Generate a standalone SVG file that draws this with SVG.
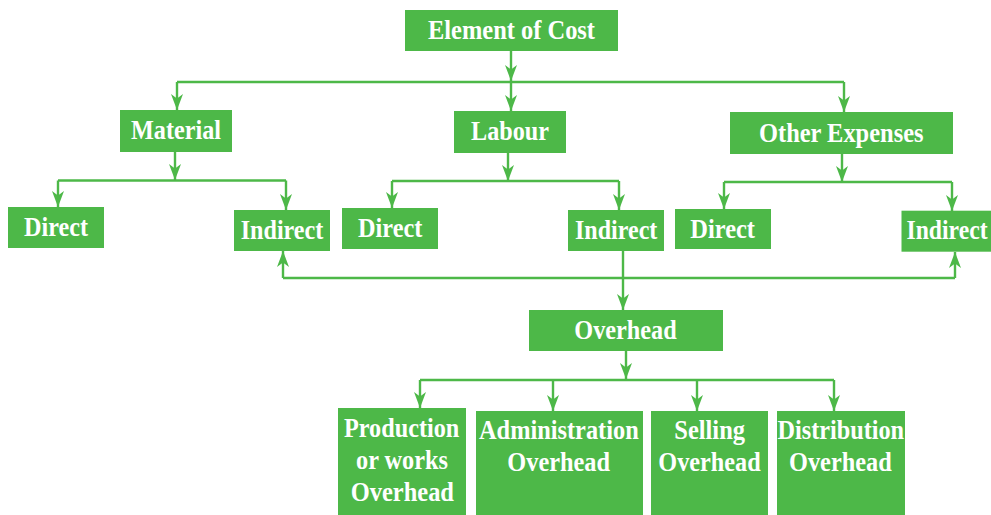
<svg xmlns="http://www.w3.org/2000/svg" width="991" height="515" viewBox="0 0 991 515">
<style>
.box{fill:#4DB848;}
.t{font-family:"Liberation Serif","Times New Roman",serif;font-weight:bold;font-size:28px;fill:#ffffff;}
.c{stroke:#4DB848;stroke-width:2.4;fill:none;}
.a{marker-end:url(#arr);}
</style>
<defs>
<marker id="arr" markerUnits="userSpaceOnUse" viewBox="0 0 16 12" markerWidth="16" markerHeight="12" refX="16" refY="6" orient="auto">
<path d="M0,0 L16,6 L0,12 L4.5,6 Z" fill="#4DB848"/>
</marker>
</defs>
<rect width="991" height="515" fill="#ffffff"/>
<g id="connectors">
<line class="c a" x1="511" y1="51" x2="511" y2="81"/>
<line class="c" x1="177" y1="82" x2="844" y2="82"/>
<line class="c a" x1="177" y1="82" x2="177" y2="110"/>
<line class="c a" x1="511" y1="82" x2="511" y2="111"/>
<line class="c a" x1="844" y1="82" x2="844" y2="112"/>
<line class="c a" x1="175" y1="152" x2="175" y2="180"/>
<line class="c" x1="58" y1="180.5" x2="286" y2="180.5"/>
<line class="c a" x1="58" y1="180.5" x2="58" y2="207"/>
<line class="c a" x1="286" y1="180.5" x2="286" y2="210"/>
<line class="c a" x1="508" y1="153" x2="508" y2="181"/>
<line class="c" x1="392" y1="181" x2="619" y2="181"/>
<line class="c a" x1="392" y1="181" x2="392" y2="208"/>
<line class="c a" x1="619" y1="181" x2="619" y2="210"/>
<line class="c a" x1="842" y1="154" x2="842" y2="182"/>
<line class="c" x1="724" y1="182" x2="952" y2="182"/>
<line class="c a" x1="724" y1="182" x2="724" y2="209"/>
<line class="c a" x1="952" y1="182" x2="952" y2="211"/>
<line class="c" x1="283" y1="278" x2="955" y2="278"/>
<line class="c a" x1="283" y1="278" x2="283" y2="251"/>
<line class="c a" x1="955" y1="278" x2="955" y2="252"/>
<line class="c a" x1="623" y1="251" x2="623" y2="310"/>
<line class="c a" x1="626" y1="351" x2="626" y2="379"/>
<line class="c" x1="420" y1="380" x2="834" y2="380"/>
<line class="c a" x1="420" y1="380" x2="420" y2="408"/>
<line class="c a" x1="553" y1="380" x2="553" y2="411"/>
<line class="c a" x1="697" y1="380" x2="697" y2="411"/>
<line class="c a" x1="834" y1="380" x2="834" y2="411"/>
</g>
<g id="element-of-cost"><rect class="box" x="405" y="10" width="213" height="41"/><text class="t" x="428" y="39.3" textLength="167" lengthAdjust="spacingAndGlyphs">Element of Cost</text></g>
<g id="material"><rect class="box" x="120" y="110" width="112" height="42"/><text class="t" x="131" y="139.3" textLength="90" lengthAdjust="spacingAndGlyphs">Material</text></g>
<g id="labour"><rect class="box" x="454" y="111" width="112" height="42"/><text class="t" x="471" y="140" textLength="78" lengthAdjust="spacingAndGlyphs">Labour</text></g>
<g id="other-expenses"><rect class="box" x="730" y="112" width="223" height="42"/><text class="t" x="759" y="141.7" textLength="164.5" lengthAdjust="spacingAndGlyphs">Other Expenses</text></g>
<g id="material-direct"><rect class="box" x="8" y="207" width="96" height="41"/><text class="t" x="24" y="236" textLength="64" lengthAdjust="spacingAndGlyphs">Direct</text></g>
<g id="material-indirect"><rect class="box" x="234" y="210" width="96" height="41"/><text class="t" x="240.7" y="238.7" textLength="82.6" lengthAdjust="spacingAndGlyphs">Indirect</text></g>
<g id="labour-direct"><rect class="box" x="342" y="208" width="96" height="41"/><text class="t" x="358" y="237.3" textLength="64.3" lengthAdjust="spacingAndGlyphs">Direct</text></g>
<g id="labour-indirect"><rect class="box" x="568" y="210" width="96" height="41"/><text class="t" x="575" y="238.7" textLength="82.3" lengthAdjust="spacingAndGlyphs">Indirect</text></g>
<g id="other-direct"><rect class="box" x="675" y="209" width="96" height="40"/><text class="t" x="690.3" y="238" textLength="64.7" lengthAdjust="spacingAndGlyphs">Direct</text></g>
<g id="other-indirect"><rect class="box" x="901.5" y="210.7" width="89.5" height="41"/><text class="t" x="906.5" y="239.3" textLength="81" lengthAdjust="spacingAndGlyphs">Indirect</text></g>
<g id="overhead"><rect class="box" x="529" y="310" width="194" height="41"/><text class="t" x="574.3" y="339" textLength="102.4" lengthAdjust="spacingAndGlyphs">Overhead</text></g>
<g id="production-overhead"><rect class="box" x="338" y="408" width="128" height="107"/>
<text class="t" x="344" y="437.3" textLength="115.3" lengthAdjust="spacingAndGlyphs">Production</text>
<text class="t" x="356" y="469.3" textLength="92" lengthAdjust="spacingAndGlyphs">or works</text>
<text class="t" x="350.7" y="500.7" textLength="103.3" lengthAdjust="spacingAndGlyphs">Overhead</text></g>
<g id="administration-overhead"><rect class="box" x="476" y="411" width="167" height="104"/>
<text class="t" x="479" y="439" textLength="159.7" lengthAdjust="spacingAndGlyphs">Administration</text>
<text class="t" x="507.3" y="470.7" textLength="102.7" lengthAdjust="spacingAndGlyphs">Overhead</text></g>
<g id="selling-overhead"><rect class="box" x="651" y="411" width="117" height="104"/>
<text class="t" x="674.3" y="439" textLength="70.7" lengthAdjust="spacingAndGlyphs">Selling</text>
<text class="t" x="658.3" y="470.7" textLength="102.4" lengthAdjust="spacingAndGlyphs">Overhead</text></g>
<g id="distribution-overhead"><rect class="box" x="777" y="411" width="128" height="104"/>
<text class="t" x="777.5" y="439" textLength="126.5" lengthAdjust="spacingAndGlyphs">Distribution</text>
<text class="t" x="789" y="470.7" textLength="102.7" lengthAdjust="spacingAndGlyphs">Overhead</text></g>
</svg>
